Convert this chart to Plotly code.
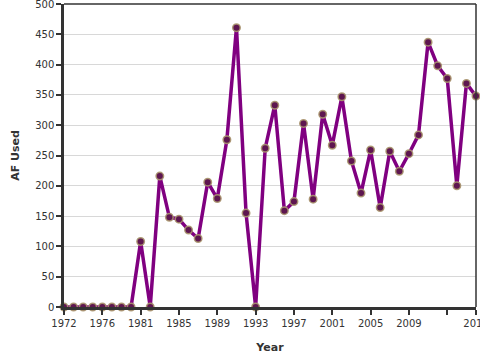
import plotly.graph_objects as go

years = [1972, 1973, 1974, 1975, 1976, 1977, 1978, 1979, 1981, 1982, 1983, 1984,
         1985, 1986, 1987, 1988, 1989, 1990, 1991, 1992, 1993, 1994, 1995, 1996,
         1997, 1998, 1999, 2000, 2001, 2002, 2003, 2004, 2005, 2006, 2007, 2008,
         2009, 2010, 2011, 2012, 2013, 2014, 2015, 2016]
af_used = [0, 0, 0, 0, 0, 0, 0, 0, 108, 0, 216, 148,
           145, 127, 113, 206, 179, 276, 461, 155, 0, 262, 333, 159,
           174, 303, 178, 318, 267, 347, 241, 188, 259, 164, 257, 224,
           253, 284, 437, 398, 377, 200, 369, 348]
tick_years = [1972, 1976, 1981, 1985, 1989, 1993, 1997, 2001, 2005, 2009, 2013, 2016]
tick_labels = ["1972", "1976", "1981", "1985", "1989", "1993", "1997", "2001",
               "2005", "2009", "", "2016"]

x = [str(y) for y in years]

fig = go.Figure()
fig.add_trace(go.Scatter(
    x=x, y=af_used, mode="lines+markers",
    line=dict(color="#800080", width=3.5),
    marker=dict(size=7.5, color="#5e1650", line=dict(color="rgba(170,150,110,0.9)", width=1.5)),
    cliponaxis=False,
))

font_family = "DejaVu Sans, Verdana, sans-serif"
fig.update_layout(
    width=480, height=360,
    margin=dict(l=64, r=4, t=4, b=53, autoexpand=False),
    paper_bgcolor="white", plot_bgcolor="white",
    showlegend=False,
    font=dict(family=font_family, size=10, color="#333"),
    xaxis=dict(
        type="category",
        automargin=False,
        ticklabeloverflow="allow",
        range=[0, len(years) - 1],
        tickmode="array",
        tickvals=[str(t) for t in tick_years],
        ticktext=tick_labels,
        ticks="outside", ticklen=5, tickcolor="#333", tickwidth=1.5,
        showline=True, linecolor="#333", linewidth=2.5,
        mirror=False,
        showgrid=False, zeroline=False,
        title=dict(text="<b>Year</b>", font=dict(size=11, color="#333"), standoff=16),
        tickfont=dict(size=10, color="#333"),
    ),
    yaxis=dict(
        automargin=False,
        ticklabeloverflow="allow",
        range=[0, 500],
        tickvals=[0, 50, 100, 150, 200, 250, 300, 350, 400, 450, 500],
        ticks="outside", ticklen=5, tickcolor="#333", tickwidth=1.5,
        showline=True, linecolor="#333", linewidth=2.5,
        showgrid=True, gridcolor="#d8d8d8", gridwidth=1,
        zeroline=False,
        title=dict(text="<b>AF Used</b>", font=dict(size=11, color="#333"), standoff=14),
        tickfont=dict(size=10, color="#333"),
    ),
    shapes=[
        dict(type="line", xref="paper", yref="paper", x0=0, x1=1, y0=1, y1=1,
             line=dict(color="#333", width=1.5)),
        dict(type="line", xref="paper", yref="paper", x0=1, x1=1, y0=0, y1=1,
             line=dict(color="#333", width=1.5)),
    ],
)

fig.write_html("out.html")
